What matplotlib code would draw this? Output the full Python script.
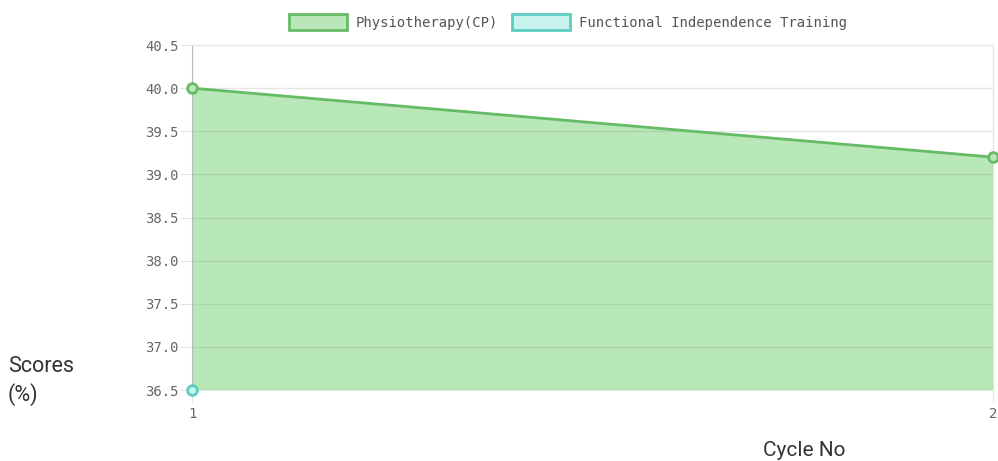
import numpy as np
import matplotlib.pyplot as plt
from matplotlib.patches import Patch

cycles = [1, 2]
cycle_labels = ['1', '2']
physio = [40.0, 39.2]
fit = [36.5, np.nan]
series_names = ['Physiotherapy(CP)', 'Functional Independence Training']
y_ticks = [36.5, 37.0, 37.5, 38.0, 38.5, 39.0, 39.5, 40.0, 40.5]

green_line = '#66bb66'
green_fill = '#b9e7b9'
teal_line = '#5ccdc0'
teal_fill = '#c9f4ee'
grid_c = '#e5e5e5'
tick_c = '#666666'

fig = plt.figure(figsize=(9.98, 4.61), dpi=100)
ax = fig.add_axes([192/998, 1-390/461, (993-192)/998, (390-45)/461])

ax.fill_between(cycles, physio, 36.5, color=(0.31, 0.765, 0.31), alpha=0.4,
                lw=0, zorder=1)
ax.plot(cycles, physio, color=green_line, lw=2, zorder=3,
        marker='o', ms=7, mfc=green_fill, mec=green_line, mew=2, clip_on=False)
ax.plot(cycles, fit, color=teal_line, lw=2, zorder=3,
        marker='o', ms=7, mfc=teal_fill, mec=teal_line, mew=2, clip_on=False)

ax.set_xlim(1, 2)
ax.set_ylim(36.5, 40.5)
ax.set_xticks(cycles)
ax.set_xticklabels(cycle_labels)
ax.set_yticks(y_ticks)
ax.set_yticklabels(['%.1f' % v for v in y_ticks])

ax.grid(True, color=grid_c, lw=1, zorder=0)
ax.set_axisbelow(True)
for s in ['top', 'right', 'bottom']:
    ax.spines[s].set_color(grid_c)
ax.spines['left'].set_color('#bbbbbb')
ax.tick_params(axis='both', length=8.6, color=grid_c, labelcolor=tick_c,
               labelsize=10)
ax.tick_params(axis='y', pad=1)
ax.tick_params(axis='x', pad=4)
for lab in ax.get_xticklabels() + ax.get_yticklabels():
    lab.set_family('DejaVu Sans Mono')

fig.text(8/998, 1-372/461, 'Scores', family='Roboto',
         fontsize=15.5, color='#333333', va='baseline', ha='left')
fig.text(8/998, 1-401/461, '(%)', family='Roboto',
         fontsize=15.5, color='#333333', va='baseline', ha='left')
fig.text(804/998, 1-456/461, 'Cycle No', family='Roboto',
         fontsize=15, color='#333333', va='baseline', ha='center')

handles = [Patch(facecolor=green_fill, edgecolor=green_line, lw=2),
           Patch(facecolor=teal_fill, edgecolor=teal_line, lw=2)]
fig.legend(handles, series_names, loc='center', bbox_to_anchor=(568/998, 1-22/461),
           ncol=2, frameon=False, handlelength=4.2, handleheight=1.3,
           columnspacing=1.0, handletextpad=0.65, borderpad=0, borderaxespad=0,
           prop={'family': 'DejaVu Sans Mono', 'size': 10}, labelcolor='#555555')

plt.savefig('out.png', dpi=100)
